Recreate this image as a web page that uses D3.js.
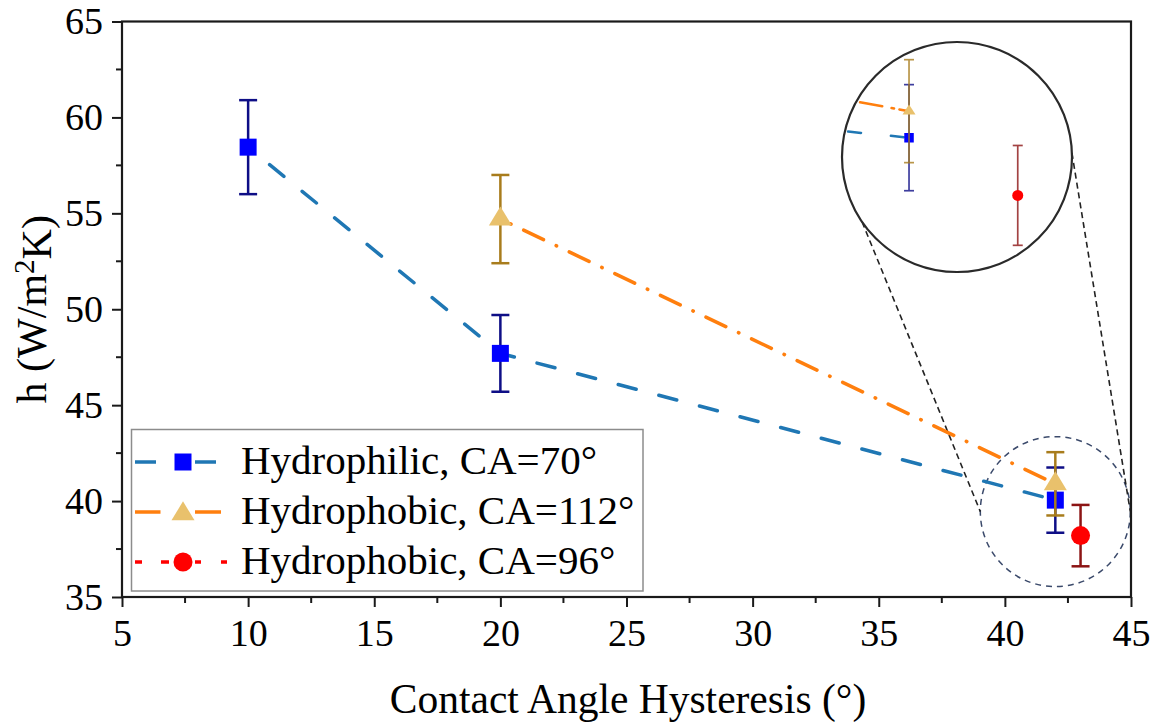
<!DOCTYPE html>
<html>
<head>
<meta charset="utf-8">
<script src="https://cdn.jsdelivr.net/npm/d3@7"></script>
<style>
  body { margin: 0; background: #fff; }
  svg { display: block; }
  text { font-family: "Liberation Serif", "Times New Roman", serif; fill: #000; }
</style>
</head>
<body>
<svg id="chart" width="1162" height="728"></svg>
<script>
// ---- data -------------------------------------------------------------
const hysteresis70 = [10, 20, 42];
const h70 = [58.45, 47.7, 40.05];
const err70 = [2.45, 2.0, 1.7];

const hysteresis112 = [20, 42];
const h112 = [54.7, 40.9];
const err112 = [2.3, 1.65];

const hysteresis96 = [43];
const h96 = [38.2];
const err96 = [1.6];

const seriesNames = ["Hydrophilic, CA=70°", "Hydrophobic, CA=112°", "Hydrophobic, CA=96°"];
const xTicks = [5, 10, 15, 20, 25, 30, 35, 40, 45];
const yTicks = [35, 40, 45, 50, 55, 60, 65];
const xMinorTicks = [7.5, 12.5, 17.5, 22.5, 27.5, 32.5, 37.5, 42.5];
const yMinorTicks = [37.5, 42.5, 47.5, 52.5, 57.5, 62.5];

// zoomed region shown in the magnifier
const zoomCenter = [42, 39.45];
const insetXDomain = [41.4, 43.5];
const insetYDomain = [35.7, 43.2];

// ---- styles -----------------------------------------------------------
const styles = [
  { symbol: "square", fill: "#0000ff", line: "#1f77b4", err: "#0e0e86",
    dash: "18.5 23.5", offset: 14.25, insetDash: "13 30", insetOffset: 37.75 },
  { symbol: "triangle", fill: "#e9c16c", line: "#ff7f0e", err: "#a87c1c",
    dash: "22 14 0.5 14", offset: 24.75, insetDash: "22.5 5.5 2.5 9.5", insetOffset: 12.75 },
  { symbol: "circle", fill: "#ff0000", line: "#ff0000", err: "#8c1414",
    dash: "3 19", offset: 0, insetDash: "3 19", insetOffset: 0 }
];

const series = [
  { name: seriesNames[0], xs: hysteresis70, ys: h70, errs: err70 },
  { name: seriesNames[1], xs: hysteresis112, ys: h112, errs: err112 },
  { name: seriesNames[2], xs: hysteresis96, ys: h96, errs: err96 }
].map((s, i) => Object.assign(s, styles[i], {
  points: s.xs.map((v, j) => ({ x: v, y: s.ys[j], e: s.errs[j] }))
}));

// ---- layout -----------------------------------------------------------
const svg = d3.select("#chart");
const plot = { left: 122, right: 1131, top: 21.5, bottom: 597 };

const x = d3.scaleLinear().domain([5, 45]).range([plot.left, plot.right]);
const y = d3.scaleLinear().domain([35, 65]).range([plot.bottom, plot.top]);

const magnifier = { cx: 957, cy: 157, r: 115 };
const xi = d3.scaleLinear().domain(insetXDomain).range([843.8, 1072.1]);
const yi = d3.scaleLinear().domain(insetYDomain).range([273.4, 39.4]);

const sizes = {
  main:  { square: 17, triW: 23, triH: 19, circR: 9.5, cap: 18, errW: 2.5, lineW: 3.5 },
  inset: { square: 9.5, triW: 13, triH: 10, circR: 5.5, cap: 10, errW: 1.7, lineW: 2.5 }
};

function markerPath(type, sz) {
  const p = d3.path();
  if (type === "square") {
    const s = sz.square;
    p.rect(-s / 2, -s / 2, s, s);
  } else if (type === "triangle") {
    p.moveTo(0, -2 * sz.triH / 3);
    p.lineTo(sz.triW / 2, sz.triH / 3);
    p.lineTo(-sz.triW / 2, sz.triH / 3);
    p.closePath();
  } else {
    p.arc(0, 0, sz.circR, 0, 2 * Math.PI);
  }
  return p.toString();
}

function drawErrorsAndMarkers(g, s, sx, sy, sz, opacity) {
  const eb = g.append("g")
    .attr("stroke", s.err).attr("stroke-width", sz.errW)
    .attr("opacity", opacity).attr("fill", "none");
  s.points.forEach(d => {
    const cx = sx(d.x), top = sy(d.y + d.e), bot = sy(d.y - d.e);
    eb.append("line").attr("x1", cx).attr("x2", cx).attr("y1", top).attr("y2", bot);
    eb.append("line").attr("x1", cx - sz.cap / 2).attr("x2", cx + sz.cap / 2).attr("y1", top).attr("y2", top);
    eb.append("line").attr("x1", cx - sz.cap / 2).attr("x2", cx + sz.cap / 2).attr("y1", bot).attr("y2", bot);
  });
  g.selectAll(null).data(s.points).enter().append("path")
    .attr("d", markerPath(s.symbol, sz))
    .attr("transform", d => `translate(${sx(d.x)},${sy(d.y)})`)
    .attr("fill", s.fill);
}

// ---- frame, ticks -----------------------------------------------------
const axisG = svg.append("g");

const xAxis = d3.axisBottom(x).tickValues(xTicks).tickSize(10).tickPadding(12).tickFormat(d3.format("d"));
const yAxis = d3.axisLeft(y).tickValues(yTicks).tickSize(10).tickPadding(9).tickFormat(d3.format("d"));

const gx = axisG.append("g").attr("transform", `translate(0,${plot.bottom})`).call(xAxis);
const gy = axisG.append("g").attr("transform", `translate(${plot.left},0)`).call(yAxis);
[gx, gy].forEach(g => {
  g.select(".domain").remove();
  g.selectAll(".tick line").attr("stroke", "#1a1a1a").attr("stroke-width", 2);
  g.selectAll(".tick text").style("font-family", "'Liberation Serif', serif").style("font-size", "38px").attr("fill", "#000");
});

axisG.append("g").selectAll("line").data(xMinorTicks).enter().append("line")
  .attr("x1", d => x(d)).attr("x2", d => x(d))
  .attr("y1", plot.bottom).attr("y2", plot.bottom + 6)
  .attr("stroke", "#1a1a1a").attr("stroke-width", 2);
axisG.append("g").selectAll("line").data(yMinorTicks).enter().append("line")
  .attr("y1", d => y(d)).attr("y2", d => y(d))
  .attr("x1", plot.left).attr("x2", plot.left - 6)
  .attr("stroke", "#1a1a1a").attr("stroke-width", 2);

// ---- magnifier outline on the zoomed region + connectors ---------------
const zc = { cx: x(zoomCenter[0]), cy: y(zoomCenter[1]), r: 75 };
svg.append("circle")
  .attr("cx", zc.cx).attr("cy", zc.cy).attr("r", zc.r)
  .attr("fill", "none").attr("stroke", "#3b4a6b").attr("stroke-width", 1.5)
  .attr("stroke-dasharray", "6 5");

const rad = a => a * Math.PI / 180;
const connectors = [[145.6, 180], [-2, 0]];
svg.append("g").selectAll("line").data(connectors).enter().append("line")
  .attr("x1", d => magnifier.cx + magnifier.r * Math.cos(rad(d[0])))
  .attr("y1", d => magnifier.cy + magnifier.r * Math.sin(rad(d[0])))
  .attr("x2", d => zc.cx + zc.r * Math.cos(rad(d[1])))
  .attr("y2", d => zc.cy + zc.r * Math.sin(rad(d[1])))
  .attr("stroke", "#222").attr("stroke-width", 1.6).attr("stroke-dasharray", "6 4");

// ---- main series ------------------------------------------------------
const lineMain = d3.line().x(d => x(d.x)).y(d => y(d.y));
const linesG = svg.append("g");
series.filter(s => s.points.length > 1).forEach(s => {
  linesG.append("path")
    .attr("d", lineMain(s.points))
    .attr("fill", "none").attr("stroke", s.line)
    .attr("stroke-width", sizes.main.lineW).attr("stroke-linecap", "round")
    .attr("stroke-dasharray", s.dash).attr("stroke-dashoffset", s.offset);
});
series.forEach(s => drawErrorsAndMarkers(svg.append("g"), s, x, y, sizes.main, 1));

// ---- frame ------------------------------------------------------------
svg.append("rect")
  .attr("x", plot.left).attr("y", plot.top)
  .attr("width", plot.right - plot.left).attr("height", plot.bottom - plot.top)
  .attr("fill", "none").attr("stroke", "#1a1a1a").attr("stroke-width", 2.2);

// ---- magnifier inset --------------------------------------------------
svg.append("defs").append("clipPath").attr("id", "magClip")
  .append("circle").attr("cx", magnifier.cx).attr("cy", magnifier.cy).attr("r", magnifier.r);

svg.append("circle")
  .attr("cx", magnifier.cx).attr("cy", magnifier.cy).attr("r", magnifier.r)
  .attr("fill", "#fff");

const inset = svg.append("g").attr("clip-path", "url(#magClip)");
const lineInset = d3.line().x(d => xi(d.x)).y(d => yi(d.y));
series.filter(s => s.points.length > 1).forEach(s => {
  inset.append("path")
    .attr("d", lineInset(s.points.slice().reverse()))
    .attr("fill", "none").attr("stroke", s.line)
    .attr("stroke-width", sizes.inset.lineW).attr("stroke-linecap", "round")
    .attr("stroke-dasharray", s.insetDash).attr("stroke-dashoffset", s.insetOffset);
});
series.forEach(s => drawErrorsAndMarkers(inset.append("g"), s, xi, yi, sizes.inset, 0.8));

svg.append("circle")
  .attr("cx", magnifier.cx).attr("cy", magnifier.cy).attr("r", magnifier.r)
  .attr("fill", "none").attr("stroke", "#2a2a2a").attr("stroke-width", 2.2);

// ---- legend -----------------------------------------------------------
const legend = svg.append("g");
legend.append("rect")
  .attr("x", 131.5).attr("y", 429.5).attr("width", 511.5).attr("height", 161.5)
  .attr("fill", "#fff").attr("stroke", "#8c8c8c").attr("stroke-width", 1.5);

const legendDash = ["21 39 21 100", "25.5 34.5 26 100", "7 19 8 26 6 20 6 100"];
const legendSpan = [[135, 216], [135, 221], [135, 227]];
series.forEach((s, i) => {
  const rowY = 462 + i * 50;
  const row = legend.append("g");
  row.append("line")
    .attr("x1", legendSpan[i][0]).attr("x2", legendSpan[i][1])
    .attr("y1", rowY).attr("y2", rowY)
    .attr("stroke", s.line).attr("stroke-width", 3.5)
    .attr("stroke-dasharray", legendDash[i]);
  row.append("path")
    .attr("d", markerPath(s.symbol, sizes.main))
    .attr("transform", `translate(183,${rowY + (s.symbol === "triangle" ? 2 : 0)})`)
    .attr("fill", s.fill);
  row.append("text")
    .attr("x", 241).attr("y", rowY + 11.5)
    .style("font-size", "41px")
    .text(s.name);
});

// ---- axis titles ------------------------------------------------------
svg.append("text")
  .attr("x", 628).attr("y", 713)
  .attr("text-anchor", "middle")
  .style("font-size", "41.5px")
  .text("Contact Angle Hysteresis (°)");

const yTitle = svg.append("text")
  .attr("transform", `translate(46,${(plot.top + plot.bottom) / 2}) rotate(-90)`)
  .attr("text-anchor", "middle")
  .style("font-size", "42px");
yTitle.append("tspan").text("h (W/m");
yTitle.append("tspan").attr("dy", "-0.42em").style("font-size", "29px").text("2");
yTitle.append("tspan").attr("dy", "0.42em").text("K)");
</script>
</body>
</html>
